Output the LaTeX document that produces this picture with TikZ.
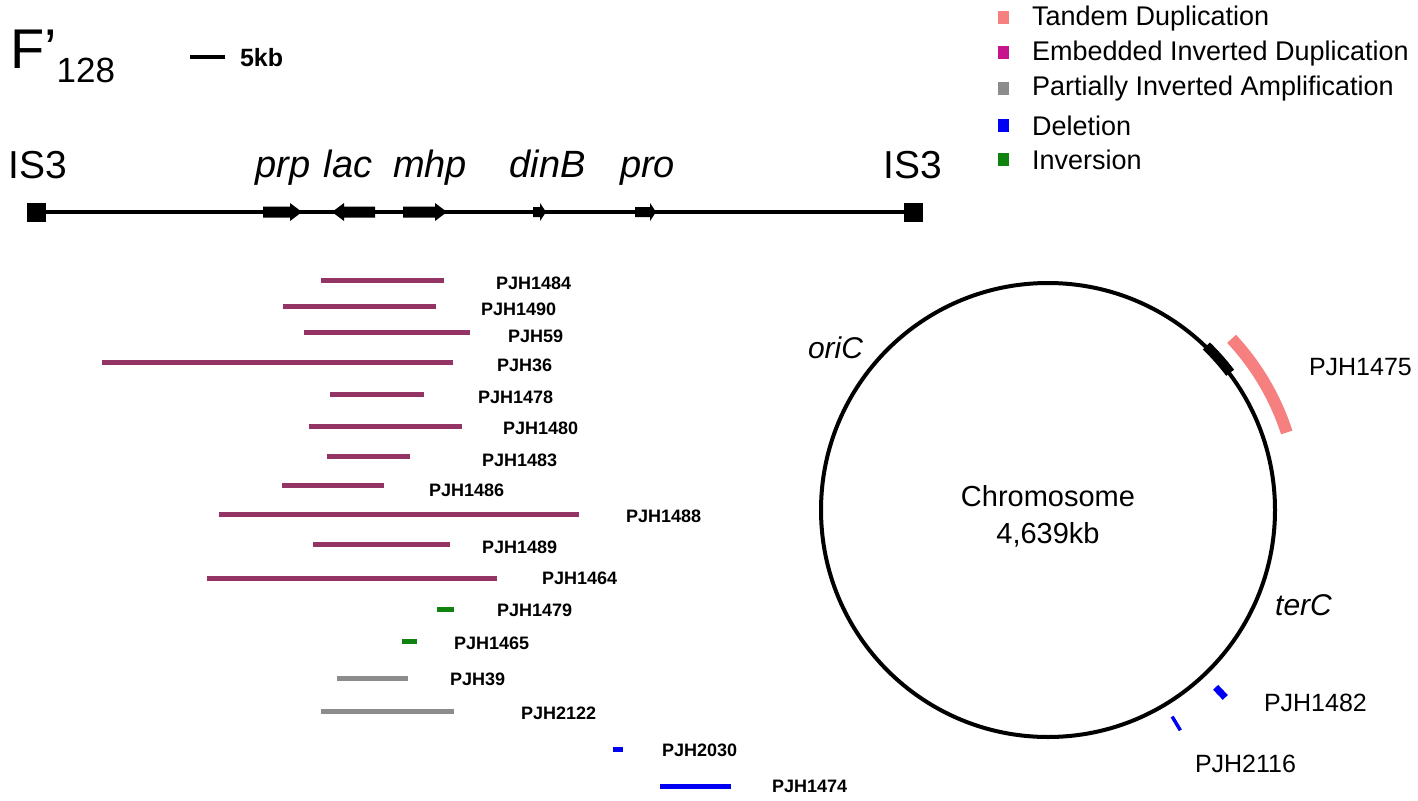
\documentclass[tikz,border=0pt]{standalone}
\usepackage{fontspec}
\setmainfont{Liberation Sans}
\usetikzlibrary{calc}
\definecolor{dupcol}{RGB}{148,52,100}
\definecolor{invcol}{RGB}{16,130,16}
\definecolor{piacol}{RGB}{140,140,140}
\definecolor{delcol}{RGB}{0,0,245}
\definecolor{tandcol}{RGB}{246,128,128}
\definecolor{eidcol}{RGB}{200,20,140}

\begin{document}
\begin{tikzpicture}[x=1pt, y=-1pt, line width=4pt,
    seglabel/.style={anchor=west, inner sep=0pt, font=\fontsize{18}{20}\selectfont\bfseries},
    chrlabel/.style={anchor=west, inner sep=0pt, font=\fontsize{25}{28}\selectfont},
    genelabel/.style={anchor=base, inner sep=0pt, font=\fontsize{38}{40}\selectfont\itshape},
    islabel/.style={anchor=base, inner sep=0pt, font=\fontsize{39}{40}\selectfont},
    keylabel/.style={anchor=west, inner sep=0pt, font=\fontsize{27}{30}\selectfont},
    keybox/.style={minimum width=11pt, minimum height=13pt, inner sep=0pt},
    gene/.style={fill=black, line width=0pt},
    seg/.style={line width=5pt}]
    \useasboundingbox (0,0) rectangle (1418,800);

    % title and scale
    \node[anchor=base west, inner sep=0pt] (title) at (8,68) {\fontsize{56}{60}\selectfont F’\fontsize{35}{40}\selectfont\raisebox{-14pt}{128}};
    \draw[line width=4pt] (190,57) -- (225,57);
    \node[anchor=west, inner sep=0pt, font=\fontsize{25}{28}\selectfont\bfseries] (scale) at (238,58) {5kb};

    % F' map
    \draw[color=black] (36,212) -- (913,212);
    \fill[color=black] (26.5,202.5) rectangle (45.5,221.5);
    \fill[color=black] (903.5,202.5) rectangle (922.5,221.5);
    \node[islabel] (isleft) at (37.5,178) {IS3};
    \node[islabel] (isright) at (912.5,178) {IS3};

    \fill[gene] (263,206.5) -- (290,206.5) -- (290,203) -- (302,212) -- (290,221) -- (290,217.5) -- (263,217.5) -- cycle;
    \fill[gene] (375,206.5) -- (344,206.5) -- (344,203) -- (332,212) -- (344,221) -- (344,217.5) -- (375,217.5) -- cycle;
    \fill[gene] (403,206.5) -- (435,206.5) -- (435,203) -- (447,212) -- (435,221) -- (435,217.5) -- (403,217.5) -- cycle;
    \fill[gene] (533,207) -- (540,207) -- (540,203) -- (546,212) -- (540,221) -- (540,217) -- (533,217) -- cycle;
    \fill[gene] (635,207) -- (650,207) -- (650,203) -- (656,212) -- (650,221) -- (650,217) -- (635,217) -- cycle;
    \node[genelabel] (prp) at (283,177) {prp};
    \node[genelabel] (lac) at (348,177) {lac};
    \node[genelabel] (mhp) at (430,177) {mhp};
    \node[genelabel] (dinB) at (547.5,177) {dinB};
    \node[genelabel] (pro) at (647.5,177) {pro};

    % rearrangements on F'
    \draw[seg, color=dupcol] (321,280) -- (444,280);
    \node[seglabel] (pjh1484) at (494,283) {PJH1484};
    \draw[seg, color=dupcol] (283,306) -- (436,306);
    \node[seglabel] (pjh1490) at (479,309) {PJH1490};
    \draw[seg, color=dupcol] (304,332) -- (470,332);
    \node[seglabel] (pjh59) at (506,336) {PJH59};
    \draw[seg, color=dupcol] (102,362) -- (453,362);
    \node[seglabel] (pjh36) at (495,365) {PJH36};
    \draw[seg, color=dupcol] (330,394) -- (424,394);
    \node[seglabel] (pjh1478) at (476,397) {PJH1478};
    \draw[seg, color=dupcol] (309,426) -- (462,426);
    \node[seglabel] (pjh1480) at (501,428) {PJH1480};
    \draw[seg, color=dupcol] (327,456) -- (410,456);
    \node[seglabel] (pjh1483) at (480,460) {PJH1483};
    \draw[seg, color=dupcol] (282,485) -- (384,485);
    \node[seglabel] (pjh1486) at (427,490) {PJH1486};
    \draw[seg, color=dupcol] (219,514) -- (579,514);
    \node[seglabel] (pjh1488) at (624,516) {PJH1488};
    \draw[seg, color=dupcol] (313,544) -- (450,544);
    \node[seglabel] (pjh1489) at (480,547) {PJH1489};
    \draw[seg, color=dupcol] (207,578) -- (497,578);
    \node[seglabel] (pjh1464) at (540,578) {PJH1464};
    \draw[seg, color=invcol] (437,609) -- (454,609);
    \node[seglabel] (pjh1479) at (495,610) {PJH1479};
    \draw[seg, color=invcol] (402,641) -- (417,641);
    \node[seglabel] (pjh1465) at (452,643) {PJH1465};
    \draw[seg, color=piacol] (337,678) -- (408,678);
    \node[seglabel] (pjh39) at (448,679) {PJH39};
    \draw[seg, color=piacol] (321,711) -- (454,711);
    \node[seglabel] (pjh2122) at (519,713) {PJH2122};
    \draw[seg, color=delcol] (613,749) -- (623,749);
    \node[seglabel] (pjh2030) at (660,750) {PJH2030};
    \draw[seg, color=delcol] (660,786) -- (731,786);
    \node[seglabel] (pjh1474) at (770,786) {PJH1474};

    % chromosome
    \coordinate (chr) at (1048,510);
    \draw[color=black] (chr) circle[radius=227pt];
    \draw[color=black, line width=10pt] ($(chr)+(-46:228)$) arc[start angle=-46, end angle=-37, radius=228];
    \draw[color=tandcol, line width=12pt] ($(chr)+(-43:251)$) arc[start angle=-43, end angle=-18, radius=251];
    \draw[color=delcol, line width=7pt] ($(chr)+(46.6:244)$) -- ($(chr)+(46.6:258)$);
    \draw[color=delcol, line width=3.5pt] ($(chr)+(59:241)$) -- ($(chr)+(59:257)$);
    \node[align=center, inner sep=0pt, font=\fontsize{29}{37}\selectfont] (chrname) at (1048,516) {Chromosome\\4,639kb};
    \node[inner sep=0pt, font=\fontsize{30}{32}\selectfont\itshape] (oriC) at (835.5,348) {oriC};
    \node[inner sep=0pt, font=\fontsize{30}{32}\selectfont\itshape] (terC) at (1303.5,605) {terC};
    \node[chrlabel] (pjh1475) at (1307,367) {PJH1475};
    \node[chrlabel] (pjh1482) at (1262,703) {PJH1482};
    \node[chrlabel] (pjh2116) at (1193,764) {PJH2116};

    % key
    \node[keybox, fill=tandcol] (keytand) at (1003,18) {};
    \node[keylabel] (labtand) at (1030,19) {Tandem Duplication};
    \node[keybox, fill=eidcol] (keyeid) at (1003,53) {};
    \node[keylabel] (labeid) at (1030,54) {Embedded Inverted Duplication};
    \node[keybox, fill=piacol] (keypia) at (1003,88) {};
    \node[keylabel] (labpia) at (1030,89) {Partially Inverted Amplification};
    \node[keybox, fill=delcol] (keydel) at (1003,125) {};
    \node[keylabel] (labdel) at (1030,126) {Deletion};
    \node[keybox, fill=invcol] (keyinv) at (1003,159) {};
    \node[keylabel] (labinv) at (1030,160) {Inversion};
\end{tikzpicture}
\end{document}
